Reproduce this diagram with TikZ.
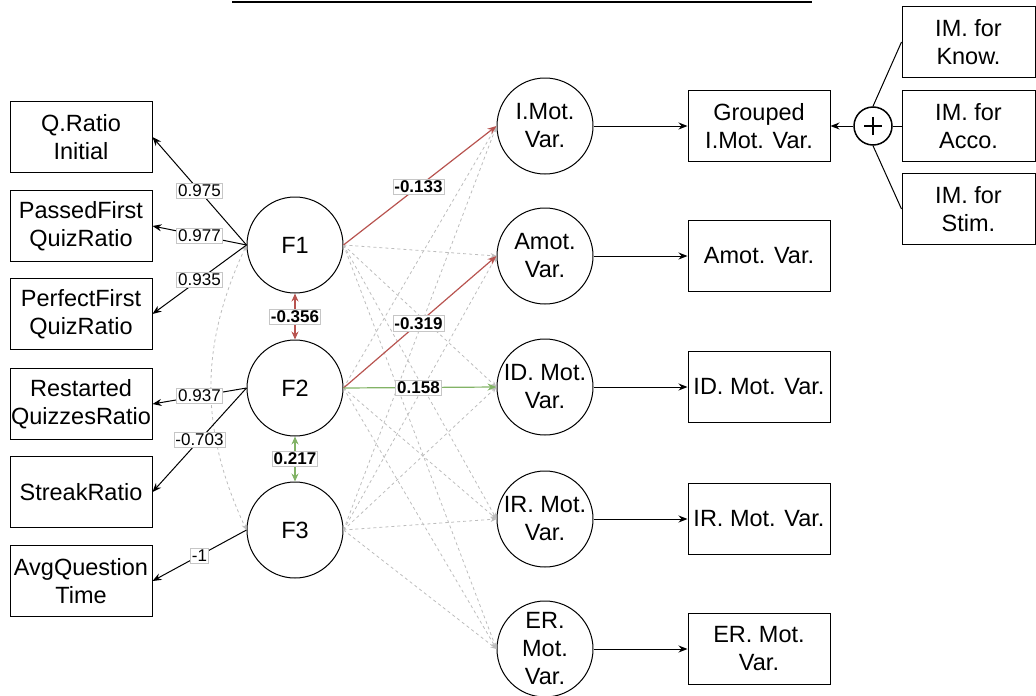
\documentclass[tikz,border=0pt]{standalone}
\usepackage{fontspec}
\setmainfont{Liberation Sans}
\usetikzlibrary{arrows.meta}
\definecolor{negred}{HTML}{B85450}
\definecolor{posgreen}{HTML}{82B366}
\definecolor{nsgray}{HTML}{BDBDBD}
\begin{document}
\begin{tikzpicture}
    [x=1pt,y=-1pt,
     var/.style={draw=black,line width=1pt,minimum width=142pt,minimum height=71pt,
       inner sep=0pt,align=center,font=\fontsize{23.5}{28}\selectfont},
     lat/.style={shape=circle,draw=black,line width=1pt,minimum size=96pt,
       inner sep=0pt,align=center,font=\fontsize{23.5}{28}\selectfont},
     pre/.style={{Stealth[length=9pt,width=7pt]}-,line width=1pt},
     load/.style={-{Stealth[length=9pt,width=7pt]},line width=1pt},
     cov/.style={{Stealth[length=8pt,width=7pt]}-{Stealth[length=8pt,width=7pt]},line width=1.2pt},
     ns/.style={-{Stealth[length=6pt,width=5pt]},dashed,nsgray,line width=0.8pt},
     nscov/.style={ns,{Stealth[length=6pt,width=5pt]}-{Stealth[length=6pt,width=5pt]}},
     lbl/.style={fill=white,draw=gray!45,line width=0.6pt,inner sep=1.5pt,text=black,
       font=\fontsize{17}{19}\selectfont},
     sig/.style={lbl,font=\fontsize{17}{19}\selectfont\bfseries}]
    \useasboundingbox (0,0) rectangle (1036,696);
    \coordinate (t1) at (232,1.5);
    \coordinate (t2) at (812,1.5);
    \draw [line width=2pt] (t1) -- (t2);
    % observed indicators
    \node [var] (qr) at (81,137) {Q.Ratio\\Initial};
    \node [var] (pf) at (81,226) {PassedFirst\\QuizRatio};
    \node [var] (pq) at (81,314) {PerfectFirst\\QuizRatio};
    \node [var] (rq) at (81,404) {Restarted\\QuizzesRatio};
    \node [var] (sr) at (81,492) {StreakRatio};
    \node [var] (aq) at (81,581) {AvgQuestion\\Time};
    % factors
    \node [lat] (f1) at (295,245) {F1};
    \node [lat] (f2) at (295,388) {F2};
    \node [lat] (f3) at (295,530) {F3};
    % motivation
    \node [lat] (im) at (545,126) {I.Mot.\\Var.};
    \node [lat] (am) at (545,256) {Amot.\\Var.};
    \node [lat] (id) at (545,387) {ID. Mot.\\Var.};
    \node [lat] (ir) at (545,519) {IR. Mot.\\Var.};
    \node [lat] (er) at (545,649) {ER.\\Mot.\\Var.};
    \node [var] (gi) at (759,126) {Grouped\\I.Mot. Var.} edge [pre] (im);
    \node [var] (av) at (759,256) {Amot. Var.} edge [pre] (am);
    \node [var] (iv) at (759,387) {ID. Mot. Var.} edge [pre] (id);
    \node [var] (rv) at (759,519) {IR. Mot. Var.} edge [pre] (ir);
    \node [var] (ev) at (759,649) {ER. Mot.\\Var.} edge [pre] (er);
    % sum of the IM scales
    \node [shape=circle,draw=black,line width=1.5pt,minimum size=38pt,inner sep=0pt] (sum) at (873,126) {};
    \draw [line width=2pt] ([xshift=-9pt]sum.center) -- ([xshift=9pt]sum.center);
    \draw [line width=2pt] ([yshift=-9pt]sum.center) -- ([yshift=9pt]sum.center);
    \node [var,minimum width=133pt] (ik) at (968.5,42) {IM. for\\Know.};
    \node [var,minimum width=133pt] (ia) at (968.5,126) {IM. for\\Acco.};
    \node [var,minimum width=133pt] (is) at (968.5,209) {IM. for\\Stim.};
    \draw [line width=1pt] (sum.north) -- (ik.west);
    \draw [line width=1pt] (sum.east) -- (ia.west);
    \draw [line width=1pt] (sum.south) -- (is.west);
    \path (sum.west) edge [load] (gi.east);
    % non significant paths
    \path (f1.west) edge [nscov,bend right=25] (f3.west);
    \path (f1.east) edge [ns] (am.west) edge [ns] (id.west)
                    edge [ns] (ir.west) edge [ns] (er.west);
    \path (f2.east) edge [ns] (im.west) edge [ns] (ir.west) edge [ns] (er.west);
    \path (f3.east) edge [ns] (im.west) edge [ns] (am.west) edge [ns] (id.west)
                    edge [ns] (ir.west) edge [ns] (er.west);
    % loadings
    \path (f1.west) edge [load] node [lbl] {0.975} (qr.east)
                    edge [load] node [lbl] {0.977} (pf.east)
                    edge [load] node [lbl] {0.935} (pq.east);
    \path (f2.west) edge [load] node [lbl] {0.937} (rq.east)
                    edge [load] node [lbl] {-0.703} (sr.east);
    \path (f3.west) edge [load] node [lbl] {-1} (aq.east);
    % significant paths
    \path (f1) edge [cov,negred] node [sig] {-0.356} (f2);
    \path (f2) edge [cov,posgreen] node [sig] {0.217} (f3);
    \path (f1.east) edge [load,negred,line width=1.2pt] node [sig,pos=.49] {-0.133} (im.west);
    \path (f2.east) edge [load,negred,line width=1.2pt] node [sig,pos=.49] {-0.319} (am.west);
    \path (f2.east) edge [load,posgreen,line width=1.2pt] node [sig,pos=.49] {0.158} (id.west);
  \end{tikzpicture}
\end{document}
